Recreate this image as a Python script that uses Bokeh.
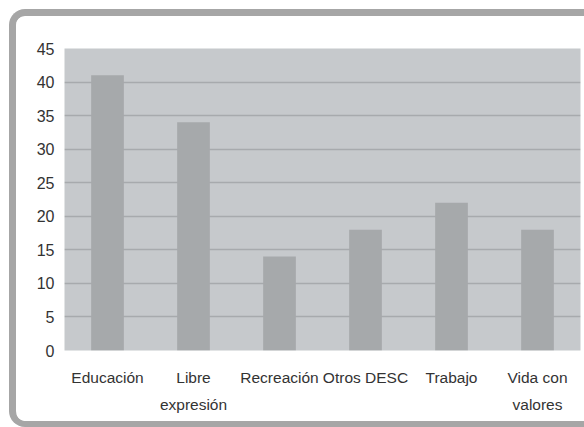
from bokeh.plotting import figure
from bokeh.models import ColumnDataSource, FactorRange, Range1d, FixedTicker
from bokeh.embed import file_html
from bokeh.resources import INLINE

categories = ["Educación", "Libre\nexpresión", "Recreación", "Otros DESC", "Trabajo", "Vida con\nvalores"]
values = [41, 34, 14, 18, 22, 18]
y_ticks = [0, 5, 10, 15, 20, 25, 30, 35, 40, 45]

source = ColumnDataSource(dict(cat=categories, val=values))

p = figure(
    x_range=FactorRange(*categories, range_padding=0),
    y_range=Range1d(0, 45),
    width=575, height=418,
    min_border_left=48, min_border_right=11, min_border_top=32, min_border_bottom=84,
    output_backend="svg", toolbar_location=None,
    background_fill_color="#c6c9cc", border_fill_color="white",
    outline_line_color=None,
    styles={
        "margin-left": "9px", "margin-top": "9px",
        "border-left": "7px solid #a6a6a6",
        "border-top": "7px solid #a6a6a6",
        "border-bottom": "6px solid #a6a6a6",
        "border-right": "none",
        "border-radius": "16px 0 0 16px",
        "overflow": "hidden",
        "background": "white",
    },
)

p.vbar(x="cat", top="val", width=0.38, source=source, fill_color="#a6a9ab", line_color=None)

p.xgrid.grid_line_color = None
p.ygrid.ticker = FixedTicker(ticks=y_ticks)
p.ygrid.grid_line_color = "#a7aaad"
p.ygrid.grid_line_width = 1.5

p.yaxis.ticker = FixedTicker(ticks=y_ticks)
for ax in (p.xaxis, p.yaxis):
    ax.axis_line_color = None
    ax.major_tick_line_color = None
    ax.minor_tick_line_color = None
    ax.major_tick_out = 0
    ax.major_tick_in = 0
    ax.major_label_text_font = "Liberation Sans"
    ax.major_label_text_color = "#333333"
p.yaxis.major_label_text_font_size = "16px"
p.yaxis.major_label_standoff = 10
p.xaxis.major_label_text_font_size = "15.5px"
p.xaxis.major_label_standoff = 18
p.xaxis.major_label_text_line_height = 1.6

open("out.html", "w").write(file_html(p, INLINE))
